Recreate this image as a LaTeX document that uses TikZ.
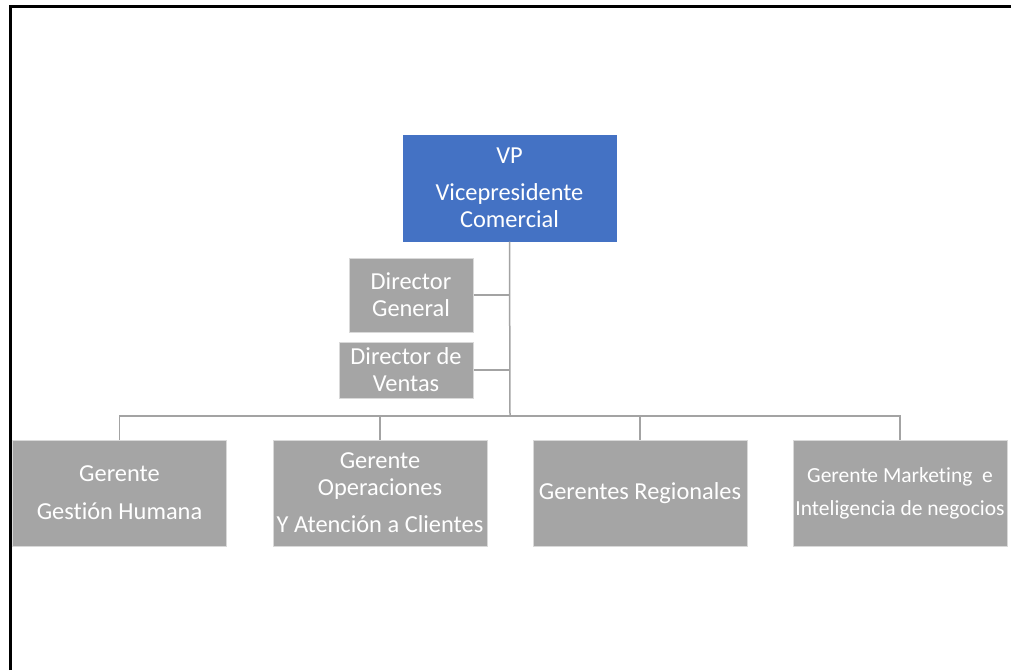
\documentclass[tikz,border=0pt]{standalone}
\usepackage{fontspec}
\setmainfont{Carlito}[Ligatures={NoCommon}]
\definecolor{vpblue}{HTML}{4472C4}
\definecolor{boxgray}{HTML}{A5A5A5}
\definecolor{linegray}{HTML}{A3A3A3}
\begin{document}
\begin{tikzpicture}[x=1pt,y=-1pt,
  box/.style={rectangle, fill=boxgray, draw=white!85!black, line width=1pt,
    text=white, align=center, inner sep=0pt,
    font=\fontsize{24.4}{27}\selectfont},
  vpbox/.style={box, fill=vpblue, draw=vpblue},
  mgr/.style={box, minimum width=214pt, minimum height=106pt},
  conn/.style={draw=linegray, line width=1.5pt}]
\useasboundingbox (0,0) rectangle (1011,670);
\fill[white] (0,0) rectangle (1011,670);
% page frame
\draw[line width=3pt, black] (10.5,670) -- (10.5,6.5) -- (1011,6.5);

% top executive
\node[vpbox, minimum width=213pt, minimum height=106pt] (vp) at (509.5,188)
  {VP\\[10pt]Vicepresidente\\Comercial};

% assistants on the spine
\node[box, minimum width=124pt, minimum height=74pt] (dg) at (411,295)
  {Director\\General};
\node[box, minimum width=134pt, minimum height=56pt] (dv) at (406,370)
  {Director de\\Ventas};

% managers
\node[mgr] (gh) at (119.5,493) {Gerente\\[11pt]Gestión Humana};
\node[mgr] (go) at (380,493) {Gerente\\Operaciones\\[10pt]Y Atención a Clientes};
\node[mgr] (gr) at (640,493) {Gerentes Regionales};
\node[mgr, font=\fontsize{21.5}{24}\selectfont] (gm) at (900,493)
  {Gerente Marketing\ \ e\\[9pt]Inteligencia de negocios};

% connectors
\coordinate (hub) at (510,416);
\draw[conn] (vp.south) -- (hub);
\draw[conn] (dg.east) -- (dg.east -| hub);
\draw[conn] (dv.east) -- (dv.east -| hub);
\foreach \m in {gh,go,gr,gm}
  \draw[conn] (hub) -| (\m.north);
\end{tikzpicture}
\end{document}
